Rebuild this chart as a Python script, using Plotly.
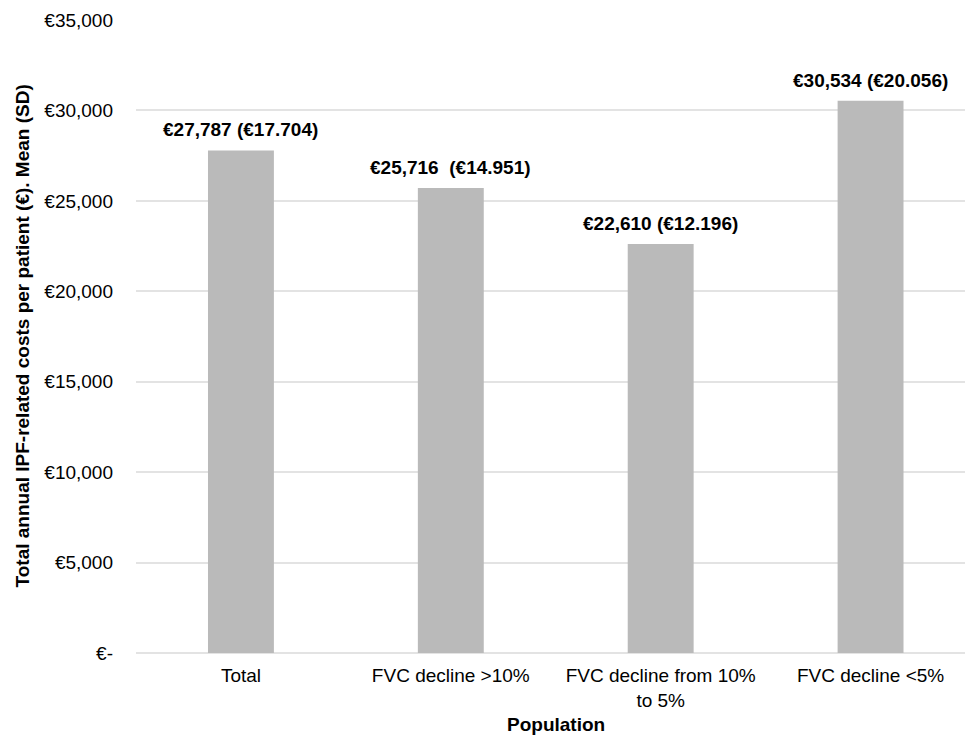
import plotly.graph_objects as go

categories = ["Total", "FVC decline >10%", "FVC decline from 10%<br>to 5%", "FVC decline <5%"]
mean_costs = [27787, 25716, 22610, 30534]
bar_labels = ["€27,787 (€17.704)", "€25,716  (€14.951)", "€22,610 (€12.196)", "€30,534 (€20.056)"]
tick_values = [0, 5000, 10000, 15000, 20000, 25000, 30000, 35000]
tick_labels = ["€-", "€5,000", "€10,000", "€15,000", "€20,000", "€25,000", "€30,000", "€35,000"]

FONT = "Liberation Sans, Arial, sans-serif"

fig = go.Figure()
fig.add_trace(go.Bar(
    x=list(range(len(categories))),
    y=mean_costs,
    width=0.314,
    marker=dict(color="#bababa", line=dict(width=0)),
    hoverinfo="skip",
))

label_annotations = [
    dict(
        text="<b>" + lbl.replace("  ", "&nbsp; ") + "</b>",
        x=i, xref="x",
        y=val, yref="y",
        xanchor="center", yanchor="bottom",
        yshift=8,
        showarrow=False,
        font=dict(family=FONT, size=19, color="#000000"),
    )
    for i, (val, lbl) in enumerate(zip(mean_costs, bar_labels))
]

fig.update_layout(
    width=967, height=735,
    margin=dict(l=136, r=2, t=20, b=82),
    paper_bgcolor="white",
    plot_bgcolor="white",
    showlegend=False,
    font=dict(family=FONT, size=19, color="#000000"),
    xaxis=dict(
        range=[-0.5, 3.45],
        tickvals=list(range(len(categories))),
        ticktext=categories,
        showgrid=False,
        showline=False,
        zeroline=False,
        ticks="",
        ticklabelstandoff=9,
        tickfont=dict(family=FONT, size=19, color="#000000"),
    ),
    yaxis=dict(
        range=[0, 35000],
        tickvals=tick_values,
        ticktext=tick_labels,
        showgrid=True,
        gridcolor="#e3e3e3",
        gridwidth=1.5,
        zeroline=True,
        zerolinecolor="#e3e3e3",
        zerolinewidth=1.5,
        showline=False,
        ticks="",
        ticklabelstandoff=22,
        tickfont=dict(family=FONT, size=19, color="#000000"),
    ),
    annotations=label_annotations + [
        dict(
            text="<b>Population</b>",
            x=1.5, xref="x",
            y=0, yref="paper",
            yshift=-71,
            showarrow=False,
            yanchor="middle",
            font=dict(family=FONT, size=19, color="#000000"),
        ),
        dict(
            text="<b>Total annual IPF-related costs per patient (€). Mean (SD)</b>",
            x=0, xref="paper",
            y=0.5, yref="paper",
            xanchor="center", yanchor="middle",
            xshift=-114,
            textangle=-90,
            showarrow=False,
            font=dict(family=FONT, size=19, color="#000000"),
        ),
    ],
)

fig.write_html("out.html")
